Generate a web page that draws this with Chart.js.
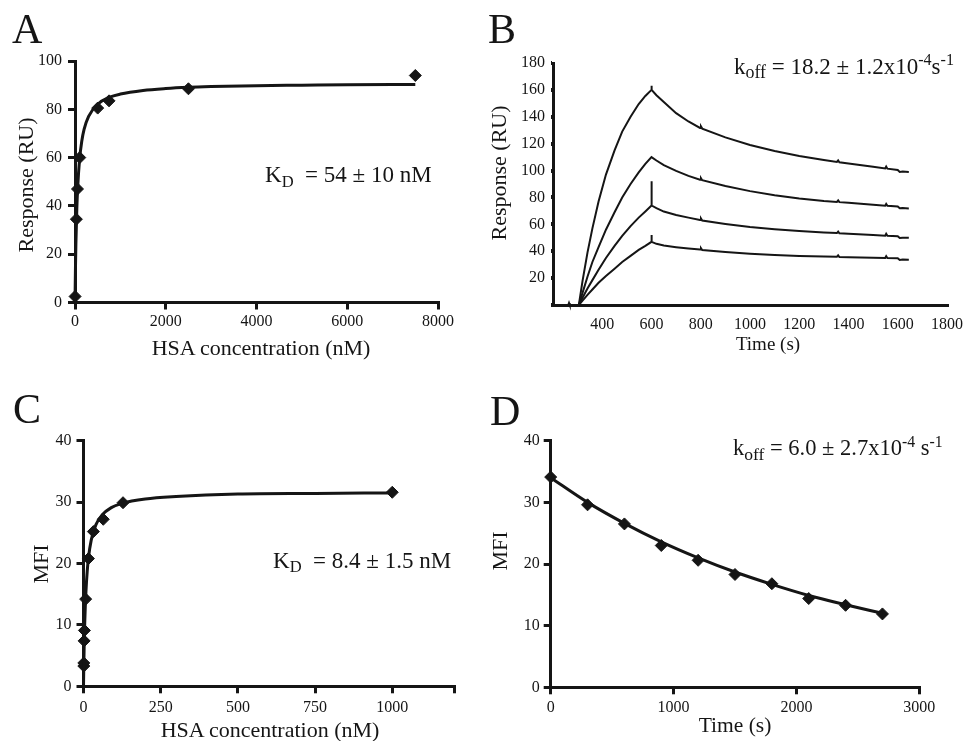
<!DOCTYPE html>
<html><head><meta charset="utf-8">
<script src="https://cdn.jsdelivr.net/npm/chart.js@4.4.1/dist/chart.umd.min.js"></script>
<style>
html,body{margin:0;padding:0;background:#fff;}
#wrap{position:relative;width:971px;height:741px;overflow:hidden;background:#fff;}
canvas{position:absolute;left:0;top:0;}
.t{position:absolute;font-family:'Liberation Serif','Times New Roman',serif;color:#151515;white-space:nowrap;line-height:1;}
.t .sb{position:relative;line-height:0;}
</style></head>
<body><div id="wrap">
<canvas id="cA" width="971" height="741"></canvas>
<canvas id="cB" width="971" height="741"></canvas>
<canvas id="cC" width="971" height="741"></canvas>
<canvas id="cD" width="971" height="741"></canvas>
</div>
<script>
// ---------- Panel A : SPR steady-state binding ----------
const aConc = [2, 30, 55, 105, 500, 750, 2500, 7500];
const aResp = [2.5, 34.5, 47, 60, 80.5, 83.5, 88.5, 94];
const aFitConc = [0, 10, 20, 40, 60, 100, 150, 200, 300, 500, 750, 1000, 1500, 2000, 2500, 3000, 4000, 5000, 6000, 7500];
const aFitResp = [0, 14.2, 24.6, 38.7, 47.9, 59.1, 66.9, 71.7, 77.1, 82.1, 84.9, 86.3, 87.8, 88.6, 89.1, 89.4, 89.8, 90.0, 90.2, 90.3];
const aXTicks = [0, 2000, 4000, 6000, 8000];
const aXLabels = ['0', '2000', '4000', '6000', '8000'];
const aYTicks = [0, 20, 40, 60, 80, 100];
const aYLabels = ['0', '20', '40', '60', '80', '100'];

// ---------- Panel B : SPR sensorgrams ----------
const bTime = [200, 262, 265, 268, 305, 320, 340, 360, 385, 415, 450, 481, 515, 548, 575, 600, 600, 601,
  620, 650, 700, 750, 797, 801, 806, 900, 1000, 1100, 1200, 1300, 1353, 1358, 1363, 1400, 1500,
  1549, 1553, 1558, 1600, 1608, 1620, 1645];
const bCurve1 = [0, 0, 1.5, 0, 0, 18, 39, 57, 77, 97, 115, 129, 140, 149.5, 155.5, 160, 163, 160,
  156, 151, 142.7, 136.5, 131.7, 132.8, 131.2, 124.7, 119, 114.5, 110.8, 107.8, 106.4, 107.5, 106.2, 105.3, 102.8,
  101.6, 103, 101.4, 100.4, 99, 99.3, 99];
const bCurve2 = [0, 0, 0, 0, 0, 9, 21, 32, 43, 56, 69, 80, 90, 98.6, 105, 110, 110, 110,
  107.5, 104, 99.8, 96, 93.2, 94.3, 92.8, 88.5, 84.7, 81.6, 79.2, 77.3, 76.7, 77.8, 76.5, 76, 74.6,
  73.9, 75.2, 73.8, 73.2, 71.9, 72.1, 71.8];
const bCurve3 = [0, 0, 0, 0, 0, 5.4, 12.3, 18.5, 26.2, 35, 44, 51.4, 58.7, 65, 69.6, 74, 92, 74,
  72, 69.5, 67, 65, 63.2, 64.3, 62.8, 60.3, 58, 56.4, 55, 53.9, 53.5, 54.6, 53.3, 53, 52,
  51.6, 53, 51.5, 51.1, 49.8, 50.1, 50];
const bCurve4 = [0, 0, 0, 0, 0, 3.3, 7.5, 11.5, 16.5, 21.6, 27, 32, 36.5, 41, 44, 47, 52, 47,
  45.5, 44.2, 43, 42, 41.2, 42.2, 40.9, 39.5, 38.2, 37.1, 36.4, 36, 35.9, 36.9, 35.7, 35.6, 35.2,
  35, 36.3, 34.9, 34.8, 33.5, 33.8, 33.7];
const bXTicks = [200, 400, 600, 800, 1000, 1200, 1400, 1600, 1800];
const bXLabels = ['', '400', '600', '800', '1000', '1200', '1400', '1600', '1800'];
const bYTicks = [0, 20, 40, 60, 80, 100, 120, 140, 160, 180];
const bYLabels = ['', '20', '40', '60', '80', '100', '120', '140', '160', '180'];

// ---------- Panel C : cell-surface titration ----------
const cConc = [1, 1, 2, 3, 7, 16, 32, 64, 128, 1000];
const cMfi = [3.3, 3.8, 7.4, 9.1, 14.2, 20.8, 25.2, 27.2, 29.9, 31.6];
const cFitConc = [0, 1, 2, 4, 6, 8, 12, 16, 25, 40, 60, 90, 125, 200, 300, 500, 750, 1000];
const cFitMfi = [0, 3.4, 6.1, 10.3, 13.3, 15.5, 18.7, 20.9, 23.8, 26.3, 27.9, 29.1, 29.8, 30.5, 30.9, 31.3, 31.4, 31.5];
const cXTicks = [0, 250, 500, 750, 1000, 1200];
const cXLabels = ['0', '250', '500', '750', '1000', ''];
const cYTicks = [0, 10, 20, 30, 40];
const cYLabels = ['0', '10', '20', '30', '40'];

// ---------- Panel D : cell-surface dissociation ----------
const dTime = [0, 300, 600, 900, 1200, 1500, 1800, 2100, 2400, 2700];
const dMfi = [34.1, 29.6, 26.5, 23.0, 20.6, 18.3, 16.8, 14.4, 13.3, 11.9];
const dFitMfi = [34.0, 30.0, 26.6, 23.6, 21.0, 18.7, 16.7, 14.9, 13.4, 12.0];
const dXTicks = [0, 1000, 2000, 3000];
const dXLabels = ['0', '1000', '2000', '3000'];
const dYTicks = [0, 10, 20, 30, 40];
const dYLabels = ['0', '10', '20', '30', '40'];

// ---------- helpers ----------
const INK = '#151515';
const PAGE_W = 971, PAGE_H = 741;
Chart.defaults.font.family = "'Liberation Serif', 'Times New Roman', serif";
Chart.defaults.color = INK;

function pairs(xs, ys) { return xs.map((x, i) => ({x: x, y: ys[i]})); }

function axisCfg(o) {
  return {
    type: 'linear', min: o.min, max: o.max,
    afterBuildTicks: s => { s.ticks = o.ticks.map(v => ({value: v})); },
    afterFit: s => { if (o.horizontal) s.height = 30; else s.width = 40; },
    border: {display: true, width: 3, color: INK},
    grid: {drawOnChartArea: false, drawTicks: true, tickLength: o.tl, lineWidth: o.tw, color: INK},
    ticks: {padding: o.pad, font: {size: o.fs}, color: INK, maxRotation: 0, minRotation: 0, autoSkip: false,
      callback: (v, i) => o.labels[i]}
  };
}

function curveDs(data, w, smooth) {
  return {data: data, showLine: true, pointRadius: 0, borderColor: INK, borderWidth: w,
    tension: 0, cubicInterpolationMode: smooth ? 'monotone' : 'default', clip: false};
}
function pointDs(data) {
  return {data: data, showLine: false, pointStyle: 'rectRot', pointRadius: 6, backgroundColor: INK,
    borderColor: INK, borderWidth: 1, clip: false};
}

function panel(id, area, xs, ys, datasets) {
  new Chart(document.getElementById(id), {
    type: 'scatter',
    data: {datasets: datasets},
    options: {
      responsive: false, animation: false, events: [],
      layout: {padding: {left: area.L - 40, right: PAGE_W - area.R, top: area.T, bottom: PAGE_H - area.B - 30}},
      plugins: {legend: {display: false}, tooltip: {enabled: false}},
      scales: {x: axisCfg(Object.assign({horizontal: true}, xs)), y: axisCfg(ys)}
    }
  });
}

panel('cA', {L: 75, R: 438, T: 61, B: 302.5},
  {min: 0, max: 8000, ticks: aXTicks, labels: aXLabels, tl: 7, tw: 3, pad: 3, fs: 16},
  {min: 0, max: 100, ticks: aYTicks, labels: aYLabels, tl: 7, tw: 3, pad: 6, fs: 16},
  [curveDs(pairs(aFitConc, aFitResp), 3, true), pointDs(pairs(aConc, aResp))]);

panel('cB', {L: 553, R: 952, T: 63, B: 305},
  {min: 200, max: 1800, ticks: bXTicks, labels: bXLabels, tl: 2, tw: 4, pad: 8, fs: 16},
  {min: 0, max: 180, ticks: bYTicks, labels: bYLabels, tl: 2, tw: 4, pad: 6, fs: 16},
  [curveDs(pairs(bTime, bCurve1), 2, false), curveDs(pairs(bTime, bCurve2), 2, false),
   curveDs(pairs(bTime, bCurve3), 2, false), curveDs(pairs(bTime, bCurve4), 2, false)]);

panel('cC', {L: 83.5, R: 454, T: 440.7, B: 686.3},
  {min: 0, max: 1200, ticks: cXTicks, labels: cXLabels, tl: 7, tw: 3, pad: 5, fs: 16},
  {min: 0, max: 40, ticks: cYTicks, labels: cYLabels, tl: 7, tw: 3, pad: 5, fs: 16},
  [curveDs(pairs(cFitConc, cFitMfi), 3, true), pointDs(pairs(cConc, cMfi))]);

panel('cD', {L: 550.7, R: 919.3, T: 440.7, B: 687.3},
  {min: 0, max: 3000, ticks: dXTicks, labels: dXLabels, tl: 7, tw: 3, pad: 4, fs: 16},
  {min: 0, max: 40, ticks: dYTicks, labels: dYLabels, tl: 7, tw: 3, pad: 4, fs: 16},
  [curveDs(pairs(dTime, dFitMfi), 3, true), pointDs(pairs(dTime, dMfi))]);

// ---------- text (panel letters, axis titles, annotations) ----------
const wrap = document.getElementById('wrap');
function txt(html, x, base, size, align, rot) {
  const d = document.createElement('div');
  d.className = 't';
  d.innerHTML = html;
  d.style.fontSize = size + 'px';
  wrap.appendChild(d);
  if (rot) {
    d.style.left = (x - 0.3375 * size) + 'px';
    d.style.top = base + 'px';
    d.style.transform = 'translate(-50%,-50%) rotate(-90deg)';
  } else {
    d.style.top = (base - 0.8375 * size) + 'px';
    d.style.left = x + 'px';
    if (align === 'center') d.style.transform = 'translateX(-50%)';
  }
}
const sub = (s, px, sz) => '<span class="sb" style="top:' + px + 'px;font-size:' + sz + 'em">' + s + '</span>';

txt('A', 12, 43, 42);
txt('B', 488, 43, 42);
txt('C', 13, 423, 42);
txt('D', 490, 425, 42);

txt('HSA concentration (nM)', 261, 355, 22, 'center');
txt('Response (RU)', 33, 184.5, 22, null, true);
txt('Time (s)', 768, 350, 19, 'center');
txt('Response (RU)', 506, 172.5, 22, null, true);
txt('HSA concentration (nM)', 270, 737, 22, 'center');
txt('MFI', 48, 563.7, 22, null, true);
txt('Time (s)', 735, 733, 21.5, 'center');
txt('MFI', 507.5, 551, 22, null, true);

txt('K' + sub('D', 4.5, 0.72) + '&nbsp; = 54 ± 10 nM', 265, 182.3, 23);
txt('k' + sub('off', 4.5, 0.78) + ' = 18.2 ± 1.2x10' + sub('-4', -8.5, 0.7) + 's' + sub('-1', -8.5, 0.7), 734, 74, 23);
txt('K' + sub('D', 4.5, 0.72) + '&nbsp; = 8.4 ± 1.5 nM', 273, 568, 23);
txt('k' + sub('off', 4.5, 0.78) + ' = 6.0 ± 2.7x10' + sub('-4', -8.5, 0.7) + ' s' + sub('-1', -8.5, 0.7), 733, 456, 22.5);
</script>
</body></html>
